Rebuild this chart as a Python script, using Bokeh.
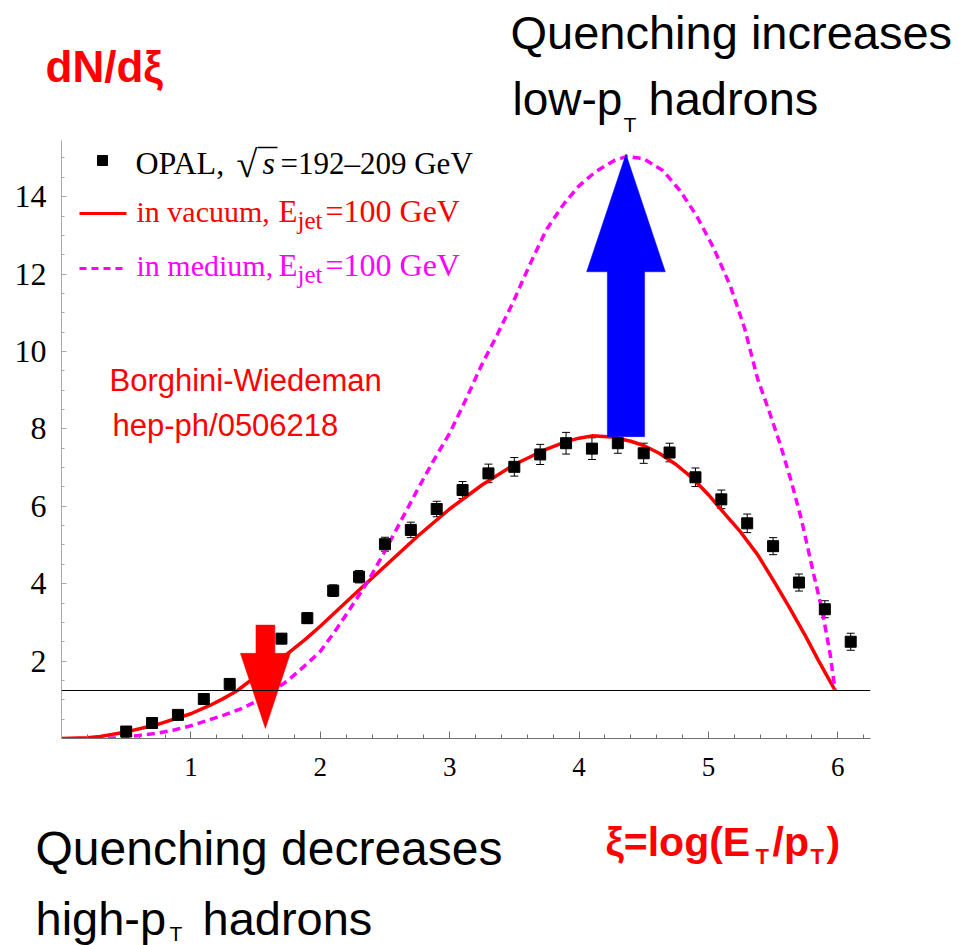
from bokeh.plotting import figure
from bokeh.layouts import column
from bokeh.models import (ColumnDataSource, Range1d, Span, Label, Whisker,
                          TeeHead, FixedTicker)
from bokeh.embed import file_html
from bokeh.resources import INLINE

# ---------------- data ----------------
opal_xi = [0.5, 0.7, 0.9, 1.1, 1.3, 1.7, 1.9, 2.1, 2.3, 2.5, 2.7, 2.9, 3.1, 3.3,
           3.5, 3.7, 3.9, 4.1, 4.3, 4.5, 4.7, 4.9, 5.1, 5.3, 5.5, 5.7, 5.9, 6.1]
opal_dndxi = [0.18, 0.40, 0.61, 1.02, 1.41, 2.58, 3.11, 3.82, 4.18, 5.02, 5.39,
              5.93, 6.42, 6.85, 7.02, 7.34, 7.63, 7.49, 7.63, 7.37, 7.39, 6.75,
              6.18, 5.56, 4.97, 4.03, 3.34, 2.50]
opal_err = [0.04, 0.06, 0.08, 0.10, 0.10, 0.12, 0.14, 0.15, 0.16, 0.18, 0.20,
            0.20, 0.22, 0.24, 0.24, 0.26, 0.28, 0.28, 0.26, 0.26, 0.24, 0.24,
            0.24, 0.24, 0.22, 0.22, 0.22, 0.22]

vac_xi = [0.0, 0.2, 0.3, 0.5, 0.75, 1.0, 1.15, 1.25, 1.36, 1.5, 1.62, 1.75,
          1.88, 2.0, 2.25, 2.5, 2.75, 3.0, 3.25, 3.5, 3.75, 3.9, 4.0, 4.1,
          4.25, 4.4, 4.5, 4.62, 4.75, 4.88, 5.0, 5.12, 5.25, 5.38, 5.5, 5.62,
          5.75, 5.85, 5.92, 5.98]
vac_dndxi = [0.0, 0.02, 0.05, 0.17, 0.37, 0.64, 0.86, 1.03, 1.24, 1.6, 1.9,
             2.2, 2.55, 2.9, 3.68, 4.45, 5.22, 5.93, 6.55, 7.08, 7.48, 7.67,
             7.76, 7.82, 7.79, 7.68, 7.57, 7.37, 7.08, 6.72, 6.3, 5.83, 5.33,
             4.75, 4.1, 3.42, 2.65, 2.02, 1.6, 1.24]

med_xi = [0.36, 0.48, 0.6, 0.75, 0.87, 1.0, 1.13, 1.26, 1.39, 1.5, 1.64, 1.75,
          1.84, 1.92, 2.0, 2.12, 2.24, 2.37, 2.49, 2.62, 2.75, 2.87, 3.0, 3.12,
          3.24, 3.37, 3.49, 3.62, 3.75, 3.88, 4.0, 4.13, 4.27, 4.37, 4.5,
          4.65, 4.78, 4.91, 5.04, 5.17, 5.28, 5.38, 5.47, 5.56, 5.64, 5.72,
          5.81, 5.88, 5.94, 5.98]
med_dndxi = [0.0, 0.03, 0.08, 0.14, 0.22, 0.33, 0.47, 0.61, 0.77, 0.95, 1.24,
             1.5, 1.76, 2.0, 2.25, 2.8, 3.4, 4.07, 4.78, 5.6, 6.42, 7.15, 7.89,
             8.72, 9.6, 10.45, 11.27, 12.25, 13.16, 13.8, 14.28, 14.65, 14.93,
             15.04, 14.98, 14.67, 14.16, 13.5, 12.68, 11.69, 10.6, 9.3, 8.45,
             7.55, 6.65, 5.65, 4.3, 3.3, 2.2, 1.24]

x_ticks = [1, 2, 3, 4, 5, 6]
y_ticks = [2, 4, 6, 8, 10, 12, 14]
x_minor = [i * 0.2 for i in range(1, 32)]
y_minor = [i * 0.5 for i in range(1, 31)]
ref_level = 1.24

# ---------------- layout constants (page pixels) ----------------
W = 974
TOP_H, BOT_Y0, PAGE_H = 140, 805, 945
FRAME_L, FRAME_R, FRAME_T, FRAME_B = 61, 870, 140, 738
X_END = 6.253
Y_END = 15.452
PX_PER_X = (FRAME_R - FRAME_L) / X_END
PX_PER_Y = (FRAME_B - FRAME_T) / Y_END
BASE_SHIFT = 0.32   # label anchor correction, in em


def dx(px):
    return (px - FRAME_L) / PX_PER_X


def dy(py):
    return (FRAME_B - py) / PX_PER_Y


RED = "#ff0000"
MAG = "#ff00ff"
BLUE = "#0000ff"
SANS = "Liberation Sans"
SERIF = "Liberation Serif"


def bare(fig):
    fig.xgrid.visible = False
    fig.ygrid.visible = False
    fig.outline_line_color = None
    fig.background_fill_color = "white"
    fig.border_fill_color = "white"


def add_label(fig, text, x, y, size, color, font, style):
    fig.add_layout(Label(x=x, y=y, text=text, text_font=font,
                         text_font_size=f"{size}px", text_color=color,
                         text_font_style=style, text_align="left",
                         text_baseline="alphabetic"))


# ---------------- main plot ----------------
p = figure(width=W, height=BOT_Y0 - TOP_H, output_backend="svg",
           toolbar_location=None, title=None, frame_align=False,
           x_range=Range1d(0, X_END), y_range=Range1d(0, Y_END),
           min_border_left=FRAME_L, min_border_right=W - FRAME_R,
           min_border_top=0, min_border_bottom=BOT_Y0 - FRAME_B)
bare(p)

p.xaxis.ticker = FixedTicker(ticks=x_ticks, minor_ticks=x_minor)
p.yaxis.ticker = FixedTicker(ticks=y_ticks, minor_ticks=y_minor)
for ax, col in ((p.xaxis, "#707070"), (p.yaxis, "#a8a8a8")):
    ax.axis_line_color = col
    ax.major_tick_line_color = col
    ax.minor_tick_line_color = col
    ax.major_tick_out = 0
    ax.minor_tick_out = 0
    ax.major_label_text_font = SERIF
    ax.major_label_text_color = "black"
p.xaxis.major_tick_in = 7
p.xaxis.minor_tick_in = 4
p.yaxis.major_tick_in = 5
p.yaxis.minor_tick_in = 3
p.xaxis.major_label_text_font_size = "27px"
p.yaxis.major_label_text_font_size = "32px"
p.xaxis.major_label_standoff = 19
p.yaxis.major_label_standoff = 15

p.add_layout(Span(location=ref_level, dimension="width", line_color="black",
                  line_width=1))

p.line(vac_xi, vac_dndxi, line_color=RED, line_width=3.5)
p.line(med_xi, med_dndxi, line_color=MAG, line_width=3.5, line_dash="8 5")

src = ColumnDataSource(dict(
    x=opal_xi, y=opal_dndxi,
    lo=[v - e for v, e in zip(opal_dndxi, opal_err)],
    hi=[v + e for v, e in zip(opal_dndxi, opal_err)]))
p.add_layout(Whisker(source=src, base="x", lower="lo", upper="hi",
                     line_color="black", line_width=1,
                     upper_head=TeeHead(size=8, line_width=1, line_color="black"),
                     lower_head=TeeHead(size=8, line_width=1, line_color="black")))
p.scatter("x", "y", source=src, marker="square", size=11, color="black")

# arrows (annotation shapes, data units)
bx, b_shaft, b_head = 4.363, 0.144, 0.304
b_tip, b_base, b_bot = 15.10, 12.06, 7.80
p.patch([bx - b_shaft, bx - b_shaft, bx - b_head, bx, bx + b_head,
         bx + b_shaft, bx + b_shaft],
        [b_bot, b_base, b_base, b_tip, b_base, b_base, b_bot],
        fill_color=BLUE, line_color=BLUE, line_width=0.5)
rx, r_shaft, r_head = 1.576, 0.073, 0.193
r_top, r_base, r_tip = 2.93, 2.20, 0.26
p.patch([rx - r_shaft, rx - r_shaft, rx - r_head, rx, rx + r_head,
         rx + r_shaft, rx + r_shaft],
        [r_top, r_base, r_base, r_tip, r_base, r_base, r_top],
        fill_color=RED, line_color=RED, line_width=0.5)

# manual legend (positions in page pixels)
p.scatter([dx(102)], [dy(160)], marker="square", size=10, color="black")
p.line([dx(79), dx(126)], [dy(213), dy(213)], line_color=RED, line_width=3)
p.line([dx(79), dx(124)], [dy(268), dy(268)], line_color=MAG, line_width=3,
       line_dash="7 5")
p.segment(x0=[dx(257)], y0=[dy(147)], x1=[dx(277)], y1=[dy(147)],
          line_color="black", line_width=1.5)


def mlab(text, px, py, size, color="black", font=SANS, style="normal"):
    add_label(p, text, dx(px), dy(py - BASE_SHIFT * size), size, color, font,
              style)


mlab("OPAL,", 135, 173, 32, font=SERIF)
mlab("\u221a", 236, 176, 38, font=SERIF)
mlab("s", 262, 173, 32, font=SERIF, style="italic")
mlab("=192\u2013209 GeV", 280, 173, 31, font=SERIF)
for row_y, word, col in ((221, "in vacuum,", RED), (275, "in medium,", MAG)):
    mlab(word, 136, row_y, 30, col, SERIF)
    mlab("E", 278, row_y, 31, col, SERIF)
    mlab("jet", 297, row_y + 7, 25, col, SERIF)
    mlab("=100 GeV", 325, row_y, 32, col, SERIF)

mlab("Borghini-Wiedeman", 109, 390, 31, RED)
mlab("hep-ph/0506218", 112, 435, 31, RED)


def slab(fig, text, px, py, size, color="black", style="normal"):
    add_label(fig, text, px, py - BASE_SHIFT * size, size, color, SANS, style)


# ---------------- top text strip (y in page pixels) ----------------
top = figure(width=W, height=TOP_H, output_backend="svg", toolbar_location=None,
             title=None, frame_align=False,
             x_range=Range1d(0, W), y_range=Range1d(TOP_H, 0),
             x_axis_location=None, y_axis_location=None, min_border=0)
bare(top)
slab(top, "dN/d\u03be", 45, 80, 44, RED, style="bold")
slab(top, "Quenching increases", 510, 47, 47)
slab(top, "low-p", 512, 113, 46)
slab(top, "T", 623, 131, 21)
slab(top, "hadrons", 648, 113, 47)

# ---------------- bottom text strip (y in page pixels) ----------------
bot = figure(width=W, height=PAGE_H - BOT_Y0, output_backend="svg",
             toolbar_location=None, title=None, frame_align=False,
             x_range=Range1d(0, W), y_range=Range1d(PAGE_H, BOT_Y0),
             x_axis_location=None, y_axis_location=None, min_border=0)
bare(bot)
slab(bot, "Quenching decreases", 35, 863, 48)
slab(bot, "high-p", 35, 933, 47)
slab(bot, "T", 169, 940, 21)
slab(bot, "hadrons", 202, 933, 47)
slab(bot, "\u03be=log(E", 605, 855, 41, RED, style="bold")
slab(bot, "T", 755, 863, 22, RED, style="bold")
slab(bot, "/p", 772, 855, 41, RED, style="bold")
slab(bot, "T", 810, 863, 22, RED, style="bold")
slab(bot, ")", 826, 855, 41, RED, style="bold")

layout = column(top, p, bot, spacing=0)
open("out.html", "w").write(file_html(layout, INLINE))
